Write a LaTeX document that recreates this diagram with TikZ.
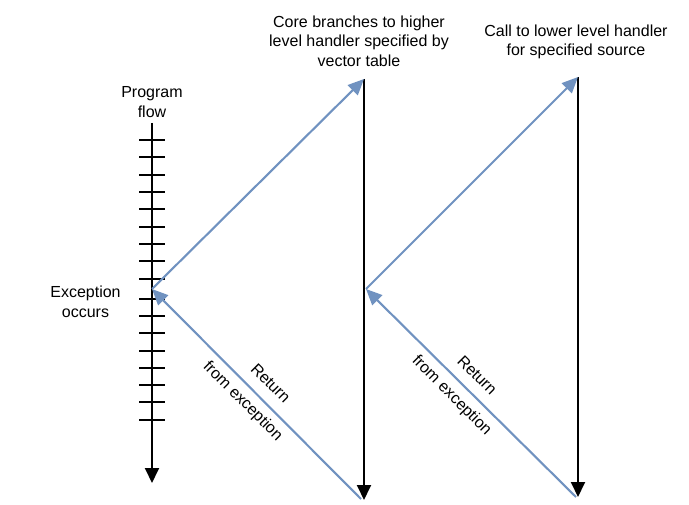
\documentclass[tikz,border=0pt]{standalone}
\usepackage{fontspec}
\setmainfont{Liberation Sans}
\usetikzlibrary{arrows.meta}
\definecolor{flowblue}{RGB}{112,146,192}
\tikzset{
  txt/.style={align=center, inner sep=0pt, font=\fontsize{16}{19.5}\selectfont},
  blackline/.style={draw=black, line width=1.9pt, -{Triangle[length=15pt,width=14pt]}},
  blueline/.style={draw=flowblue, line width=2.1pt, -{Triangle[length=16pt,width=14pt]}},
  tick/.style={draw=black, line width=2pt},
}
\begin{document}
\begin{tikzpicture}[x=1pt,y=-1pt]
\useasboundingbox (0,0) rectangle (689,505);
% coordinates
\coordinate (pftop) at (152,123);
\coordinate (pfbot) at (152,483);
\coordinate (exc) at (152,289);
\coordinate (htop) at (364,79);
\coordinate (hbot) at (364,500);
\coordinate (hmid) at (366,289);
\coordinate (ltop) at (578,77);
\coordinate (lbot) at (578,497);
\coordinate (hret) at (361,499);
\coordinate (lret) at (576,497);
% program flow line with ticks
\draw[blackline] (pftop) -- (pfbot);
\foreach \k in {0,...,8} {
  \draw[tick] (139,{140+17.35*\k}) -- (165,{140+17.35*\k});
}
\foreach \k in {0,...,7} {
  \draw[tick] (139,{298.7+17.3*\k}) -- (165,{298.7+17.3*\k});
}
% handler lines
\draw[blackline] (htop) -- (hbot);
\draw[blackline] (ltop) -- (lbot);
% blue arrows
\draw[blueline] (exc) -- (htop);
\draw[blueline] (hret) -- (exc);
\draw[blueline] (hmid) -- (ltop);
\draw[blueline] (lret) -- (hmid);
% texts
\node[txt] (pflabel) at (152,102) {Program\\flow};
\node[txt] (exclabel) at (85.5,302) {Exception\\occurs};
\node[txt] (corelabel) at (359,41) {Core branches to higher\\level handler specified by\\vector table};
\node[txt] (calllabel) at (576,42) {Call to lower level handler\\for specified source};
\node[txt, rotate=-45] (ret1) at (253.5,390.5) {\hspace*{14pt}Return\\[12pt]from exception};
\node[txt, rotate=-45] (ret2) at (462.5,385) {\hspace*{7pt}Return\\[12pt]from exception};
\end{tikzpicture}
\end{document}
